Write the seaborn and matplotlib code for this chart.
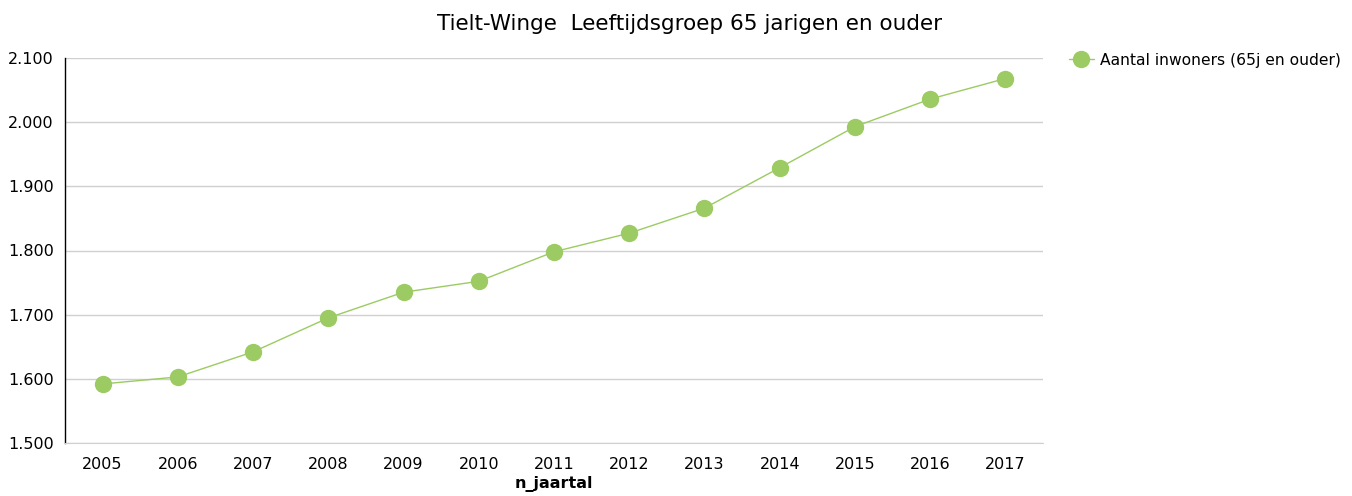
import matplotlib
matplotlib.use("Agg")
import matplotlib.pyplot as plt
import seaborn as sns
import pandas as pd

# Dati
jaren = [2005, 2006, 2007, 2008, 2009, 2010, 2011, 2012, 2013, 2014, 2015, 2016, 2017]
inwoners = [1592, 1603, 1642, 1695, 1735, 1752, 1798, 1827, 1866, 1929, 1993, 2036, 2068]
y_ticks = [1500, 1600, 1700, 1800, 1900, 2000, 2100]
y_labels = ["1.500", "1.600", "1.700", "1.800", "1.900", "2.000", "2.100"]
reeks = "Aantal inwoners (65j en ouder)"

df = pd.DataFrame({"n_jaartal": jaren, "waarde": inwoners, "reeks": reeks})

sns.set_style("white")
plt.rcParams['font.family'] = ['DejaVu Sans']
plt.rcParams['text.color'] = 'black'
plt.rcParams['xtick.color'] = 'black'
plt.rcParams['ytick.color'] = 'black'
plt.rcParams['axes.labelcolor'] = 'black'
groen = "#9BCB62"

fig = plt.figure(figsize=(13.52, 4.96), dpi=100)
ax = fig.add_axes([65 / 1352, 1 - 443 / 496, 978 / 1352, 385 / 496])

sns.lineplot(data=df, x="n_jaartal", y="waarde", hue="reeks", palette=[groen],
             marker="o", markersize=12.5, markeredgecolor=groen, markeredgewidth=0,
             linewidth=1, ax=ax, zorder=3)

ax.set_xlim(2004.5, 2017.5)
ax.set_ylim(1500, 2100)
ax.set_xticks(jaren)
ax.set_xticklabels([str(j) for j in jaren], fontsize=11.5)
ax.set_yticks(y_ticks)
ax.set_yticklabels(y_labels, fontsize=11.5)
ax.tick_params(axis="x", length=0, pad=10)
ax.tick_params(axis="y", length=0, pad=8)
ax.grid(axis="y", color="#d0d0d0", linewidth=1)
ax.set_axisbelow(True)

for s in ["top", "right"]:
    ax.spines[s].set_visible(False)
ax.spines["left"].set_color("black")
ax.spines["left"].set_linewidth(1)
ax.spines["bottom"].set_color("#d0d0d0")

ax.set_xlabel("n_jaartal", fontsize=11.5, fontweight="bold", labelpad=3)
ax.set_ylabel("")
fig.text(690 / 1352, 1 - 24 / 496, "Tielt-Winge  Leeftijdsgroep 65 jarigen en ouder",
         ha="center", va="center", fontsize=15.5)

ax.legend(loc="upper left", bbox_to_anchor=(1.02, 1.03), frameon=False,
          fontsize=11.2, handlelength=1.6, handletextpad=0.4, borderaxespad=0)

fig.savefig("out.png", dpi=100)
